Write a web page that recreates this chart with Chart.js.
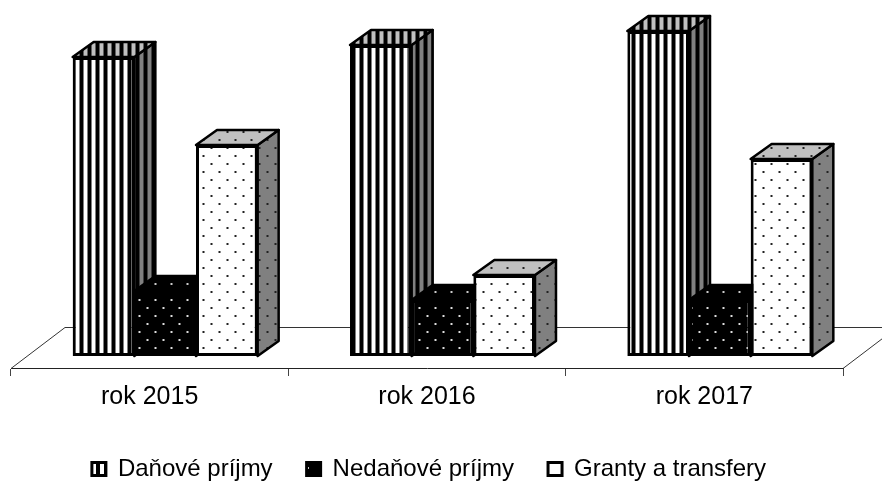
<!DOCTYPE html>
<html>
<head>
<meta charset="utf-8">
<script src="https://cdn.jsdelivr.net/npm/chart.js@4/dist/chart.umd.min.js"></script>
<style>
  html, body { margin: 0; background: #fff; }
  #wrap { width: 882px; height: 482px; }
</style>
</head>
<body>
<div id="wrap"><canvas id="myChart" width="882" height="482"></canvas></div>
<script>
const categories = ["rok 2015", "rok 2016", "rok 2017"];
const danovePrijmy = [299, 311, 325];
const nedanovePrijmy = [65, 56, 56];
const grantyTransfery = [211, 81, 197];

// picture of the 3d box, in pixels
const barDepthX = 21;
const barDepthY = 15;
const floorDepthX = 54;
const floorDepthY = 41;
const barShiftX = 15.5;

const stripes = function (bg) {
  const c = document.createElement("canvas");
  c.width = 8;
  c.height = 8;
  const g = c.getContext("2d");
  g.fillStyle = bg;
  g.fillRect(0, 0, 8, 8);
  g.fillStyle = "#000";
  g.fillRect(0, 0, 4, 8);
  return g.createPattern(c, "repeat");
};

const dots = function (bg, fg) {
  const c = document.createElement("canvas");
  c.width = 16;
  c.height = 16;
  const g = c.getContext("2d");
  g.fillStyle = bg;
  g.fillRect(0, 0, 16, 16);
  g.fillStyle = fg;
  g.fillRect(3, 3, 2, 2);
  g.fillRect(11, 11, 2, 2);
  return g.createPattern(c, "repeat");
};

const faces = [
  { top: stripes("#c0c0c0"), side: stripes("#808080") },
  { top: dots("#000", "#ccc"), side: dots("#000", "#ccc") },
  { top: dots("#c0c0c0", "#222"), side: dots("#808080", "#222") },
];

const face = function (ctx, points, fill) {
  ctx.beginPath();
  ctx.moveTo(points[0][0], points[0][1]);
  for (let p of points.slice(1)) {
    ctx.lineTo(p[0], p[1]);
  }
  ctx.closePath();
  ctx.fillStyle = fill;
  ctx.fill();
  ctx.stroke();
};

const box3d = {
  id: "box3d",
  afterLayout: function (chart) {
    // legend sits a little right of the plot centre and lower than the layout puts it
    chart.legend.left += 2;
    chart.legend.right += 2;
    chart.legend.top += 5;
    chart.legend.bottom += 5;
  },
  beforeDatasetDraw: function () {
    return false; // bars get drawn below, left to right
  },
  beforeDatasetsDraw: function (chart) {
    const ctx = chart.ctx;
    const x = chart.scales.x;
    ctx.save();
    ctx.strokeStyle = "#333";
    ctx.lineWidth = 1;
    ctx.beginPath();
    ctx.moveTo(x.left, x.top + 0.5);
    ctx.lineTo(x.left + floorDepthX, x.top - floorDepthY + 0.5);
    ctx.lineTo(x.right + floorDepthX, x.top - floorDepthY + 0.5);
    ctx.lineTo(x.right, x.top + 0.5);
    ctx.stroke();
    ctx.restore();
  },
  afterDatasetsDraw: function (chart) {
    const ctx = chart.ctx;
    ctx.save();
    ctx.translate(barShiftX, 0);
    ctx.strokeStyle = "#000";
    ctx.lineWidth = 2.5;
    ctx.lineJoin = "round";
    for (let i = 0; i < categories.length; i++) {
      for (let d = 0; d < chart.data.datasets.length; d++) {
        const bar = chart.getDatasetMeta(d).data[i];
        const l = bar.x - bar.width / 2;
        const r = bar.x + bar.width / 2;
        const t = bar.y;
        const b = bar.base;
        face(ctx, [[r, t], [r + barDepthX, t - barDepthY], [r + barDepthX, b - barDepthY], [r, b]], faces[d].side);
        face(ctx, [[l, t], [l + barDepthX, t - barDepthY], [r + barDepthX, t - barDepthY], [r, t]], faces[d].top);
        bar.draw(ctx);
      }
    }
    ctx.restore();
  },
};

const labelFont = { family: "'Liberation Sans', Arial, sans-serif", size: 24 };

const config = {
  type: "bar",
  data: {
    labels: categories,
    datasets: [
      {
        label: "Daňové príjmy",
        data: danovePrijmy,
        backgroundColor: stripes("#fff"),
        borderColor: "#000",
        borderWidth: 3,
        borderSkipped: false,
      },
      {
        label: "Nedaňové príjmy",
        data: nedanovePrijmy,
        backgroundColor: dots("#000", "#ddd"),
        borderColor: "#000",
        borderWidth: 3,
        borderSkipped: false,
      },
      {
        label: "Granty a transfery",
        data: grantyTransfery,
        backgroundColor: dots("#fff", "#222"),
        borderColor: "#000",
        borderWidth: 3,
        borderSkipped: false,
      },
    ],
  },
  options: {
    responsive: false,
    animation: false,
    events: [],
    layout: {
      padding: { left: 11, right: 39, top: 0, bottom: -4 },
    },
    datasets: {
      bar: { categoryPercentage: 0.667, barPercentage: 1 },
    },
    scales: {
      x: {
        grid: {
          offset: true,
          drawOnChartArea: false,
          color: "#444",
          tickLength: 8,
        },
        border: { color: "#222", width: 1 },
        ticks: {
          color: "#000",
          font: { family: labelFont.family, size: 25 },
          padding: 6,
          maxRotation: 0,
        },
      },
      y: {
        display: false,
        min: -12,
        max: 356,
      },
    },
    plugins: {
      title: { display: false },
      tooltip: { enabled: false },
      legend: {
        display: true,
        position: "bottom",
        labels: {
          color: "#000",
          font: labelFont,
          boxWidth: 14,
          boxHeight: 13,
          padding: 34,
        },
      },
    },
  },
  plugins: [box3d],
};

const ctx = document.getElementById("myChart");
const incomeChart = new Chart(ctx, config);
</script>
</body>
</html>
